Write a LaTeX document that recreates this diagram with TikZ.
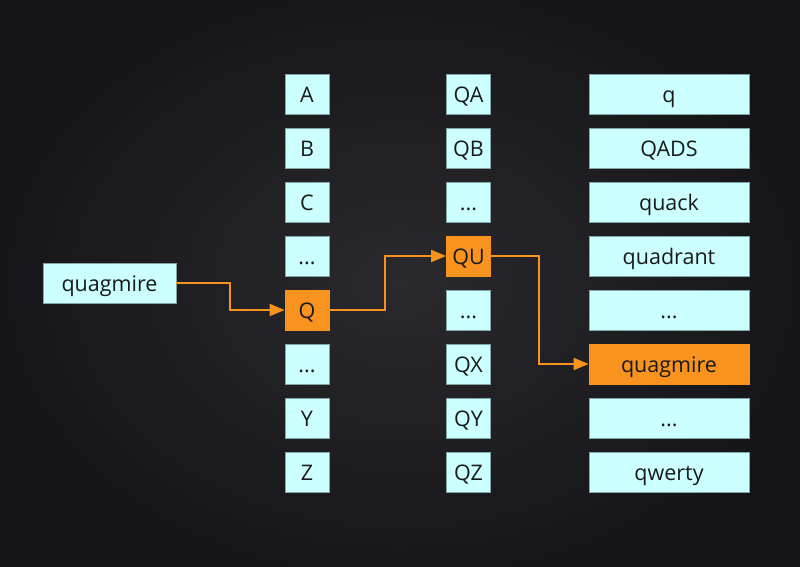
\documentclass[tikz,border=0pt]{standalone}
\usepackage{fontspec}
\setmainfont{Open Sans}
\usetikzlibrary{arrows.meta}
\definecolor{bgin}{HTML}{2A2A2E}
\definecolor{bgout}{HTML}{131316}
\definecolor{cellfill}{HTML}{CCFFFF}
\definecolor{celledge}{HTML}{7FA5A8}
\definecolor{hot}{HTML}{F7931E}
\definecolor{ink}{HTML}{1A1A1A}
\tikzset{
  cell/.style={draw=celledge, line width=0.8pt, fill=cellfill, text=ink,
    minimum height=40pt, inner sep=0pt, text height=16.6pt, text depth=0pt,
    font=\fontsize{21.5}{26}\selectfont},
  narrow/.style={cell, minimum width=44pt},
  wide/.style={cell, minimum width=160pt},
  hotcell/.style={fill=hot, draw=hot},
  link/.style={draw=hot, line width=2pt, -{Triangle[length=15pt,width=12pt]}}
}
\begin{document}
\begin{tikzpicture}[x=1pt,y=-1pt]
\useasboundingbox (0,0) rectangle (800,566);
\shade[inner color=bgin, outer color=bgout] (-60,-60) rectangle (860,626);
% left input
\node[cell, minimum width=133pt] (in) at (109.5,283) {quagmire};
% column 1
\node[narrow] (a1) at (307,94) {A};
\node[narrow] (a2) at (307,148) {B};
\node[narrow] (a3) at (307,202) {C};
\node[narrow] (a4) at (307,256) {...};
\node[narrow,hotcell] (a5) at (307,310) {Q};
\node[narrow] (a6) at (307,364) {...};
\node[narrow] (a7) at (307,418) {Y};
\node[narrow] (a8) at (307,472) {Z};
% column 2
\node[narrow] (b1) at (468.5,94) {QA};
\node[narrow] (b2) at (468.5,148) {QB};
\node[narrow] (b3) at (468.5,202) {...};
\node[narrow,hotcell] (b4) at (468.5,256) {QU};
\node[narrow] (b5) at (468.5,310) {...};
\node[narrow] (b6) at (468.5,364) {QX};
\node[narrow] (b7) at (468.5,418) {QY};
\node[narrow] (b8) at (468.5,472) {QZ};
% column 3
\node[wide] (c1) at (669,94) {q};
\node[wide] (c2) at (669,148) {QADS};
\node[wide] (c3) at (669,202) {quack};
\node[wide] (c4) at (669,256) {quadrant};
\node[wide] (c5) at (669,310) {...};
\node[wide,hotcell] (c6) at (669,364) {quagmire};
\node[wide] (c7) at (669,418) {...};
\node[wide] (c8) at (669,472) {qwerty};
% connectors
\path[link] (in.east) -| (230,296) |- (a5.west);
\path[link] (a5.east) -| (385,270) |- (b4.west);
\path[link] (b4.east) -| (539,350) |- (c6.west);
\end{tikzpicture}
\end{document}
